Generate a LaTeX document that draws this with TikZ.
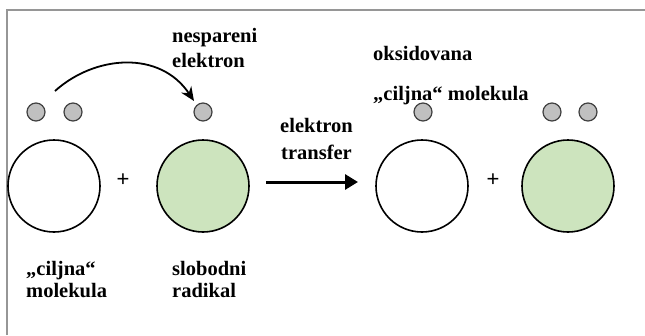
\documentclass[tikz,border=0pt]{standalone}
\usepackage{fontspec}
\setmainfont{Liberation Serif}
\newfontfamily\plusfont{Liberation Sans}
\usetikzlibrary{arrows.meta}
\definecolor{radgreen}{RGB}{205,228,190}
\definecolor{elgray}{RGB}{192,192,192}
\definecolor{framegray}{RGB}{150,150,150}
\tikzset{
  mol/.style={circle, draw=black, line width=1.6pt, minimum size=92pt, inner sep=0pt},
  molwhite/.style={mol, fill=white},
  molgreen/.style={mol, fill=radgreen},
  elec/.style={circle, draw=black!75, fill=elgray, line width=1.2pt, minimum size=18pt, inner sep=0pt},
  lbl/.style={anchor=base west, inner sep=0pt, font=\fontsize{20.5}{20.5}\selectfont\bfseries},
  plus/.style={inner sep=0pt, font=\plusfont\fontsize{22}{22}\selectfont}
}
\begin{document}
\begin{tikzpicture}[x=1pt, y=-1pt]
\useasboundingbox (0,0) rectangle (645,335);
% frame (top and left edges)
\draw[framegray, line width=2pt] (7,335) -- (7,10) -- (645,10);

% left side: target molecule + free radical
\node[molwhite] (m1) at (54,186) {};
\node[molgreen] (m2) at (203,186) {};
\node[plus] (p1) at (123,180) {+};
\node[elec] (e1) at (36,112) {};
\node[elec] (e2) at (73,112) {};
\node[elec] (e3) at (203,112) {};

% right side: oxidised target molecule + radical
\node[molwhite] (m3) at (422,186) {};
\node[molgreen] (m4) at (568,186) {};
\node[plus] (p2) at (493,180) {+};
\node[elec] (e4) at (423,112) {};
\node[elec] (e5) at (552,112) {};
\node[elec] (e6) at (588,112) {};

% curved arrow: electron moving to the radical
\coordinate (cs) at (55,91);
\coordinate (ce) at (194,101);
\draw[line width=1.8pt, -{Stealth[length=14pt, width=12pt]}]
  (cs) .. controls (95,55) and (160,50) .. (ce);

% reaction arrow
\coordinate (as) at (266,182);
\coordinate (ae) at (358,182);
\draw[line width=3pt, -{Triangle[length=13pt, width=15pt]}] (as) -- (ae);

% labels
\node[lbl] (t1) at (172,42) {nespareni};
\node[lbl] (t2) at (172,67) {elektron};
\node[lbl] (t3) at (280,132) {elektron};
\node[lbl] (t4) at (281,159) {transfer};
\node[lbl] (t5) at (373,60) {oksidovana};
\node[lbl] (t6) at (373,100) {„ciljna“ molekula};
\node[lbl] (t7) at (26,275) {„ciljna“};
\node[lbl] (t8) at (26,297) {molekula};
\node[lbl] (t9) at (172,275) {slobodni};
\node[lbl] (t10) at (172,297) {radikal};
\end{tikzpicture}
\end{document}
